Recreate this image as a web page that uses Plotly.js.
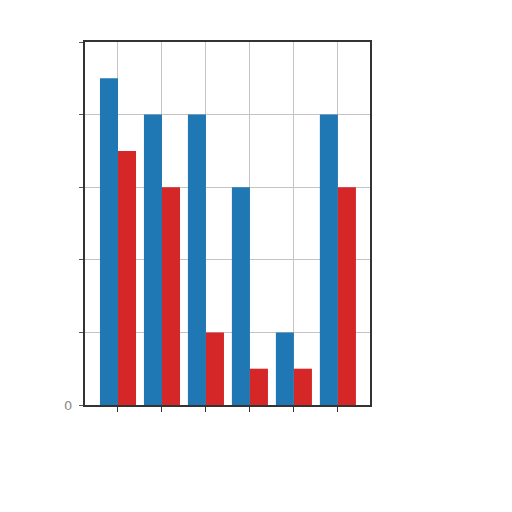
<!DOCTYPE html>
<html>
<head>
<meta charset="utf-8">
<script src="https://cdn.plot.ly/plotly-3.0.1.min.js"></script>
<style>
  html, body { margin: 0; padding: 0; background: #fff; }
  #chart { width: 512px; height: 512px; }
</style>
</head>
<body>
<div id="chart"></div>
<script>
// group positions and the two series
var groups = [0, 1, 2, 3, 4, 5];
var blueValues = [4.5, 4, 4, 3, 1, 4];
var redValues = [3.5, 3, 1, 0.5, 0.5, 3];
var yTickVals = [0, 1, 2, 3, 4, 5];
var yTickText = ['0', '', '', '', '', ''];

var blue = {
    x: groups,
    y: blueValues,
    type: 'bar',
    name: 'blue',
    marker: { color: '#1f77b4' }
};

var red = {
    x: groups,
    y: redValues,
    type: 'bar',
    name: 'red',
    marker: { color: '#d62728' }
};

var layout = {
    width: 512,
    height: 512,
    showlegend: false,
    barmode: 'group',
    bargap: 0.18,
    bargroupgap: 0,
    paper_bgcolor: '#fff',
    plot_bgcolor: '#fff',
    margin: { l: 85, r: 142, t: 42, b: 107 },
    font: { family: 'DejaVu Sans', size: 12, color: '#888' },
    xaxis: {
        range: [-0.75, 5.73],
        tickvals: groups,
        ticktext: ['', '', '', '', '', ''],
        ticks: 'outside',
        ticklen: 5,
        tickcolor: '#333',
        showgrid: true,
        gridcolor: '#c4c4c4',
        zeroline: false,
        showline: true,
        linecolor: '#333',
        linewidth: 2,
        mirror: true
    },
    yaxis: {
        range: [0, 5],
        tickvals: yTickVals,
        ticktext: yTickText,
        ticks: 'outside',
        ticklen: 4,
        tickcolor: '#555',
        ticklabelstandoff: 4,
        showgrid: true,
        gridcolor: '#c4c4c4',
        zeroline: false,
        showline: true,
        linecolor: '#333',
        linewidth: 2,
        mirror: true,
        tickfont: { color: '#8a8a8a', size: 13 }
    }
};

Plotly.newPlot('chart', [blue, red], layout, { displayModeBar: false });
</script>
</body>
</html>
